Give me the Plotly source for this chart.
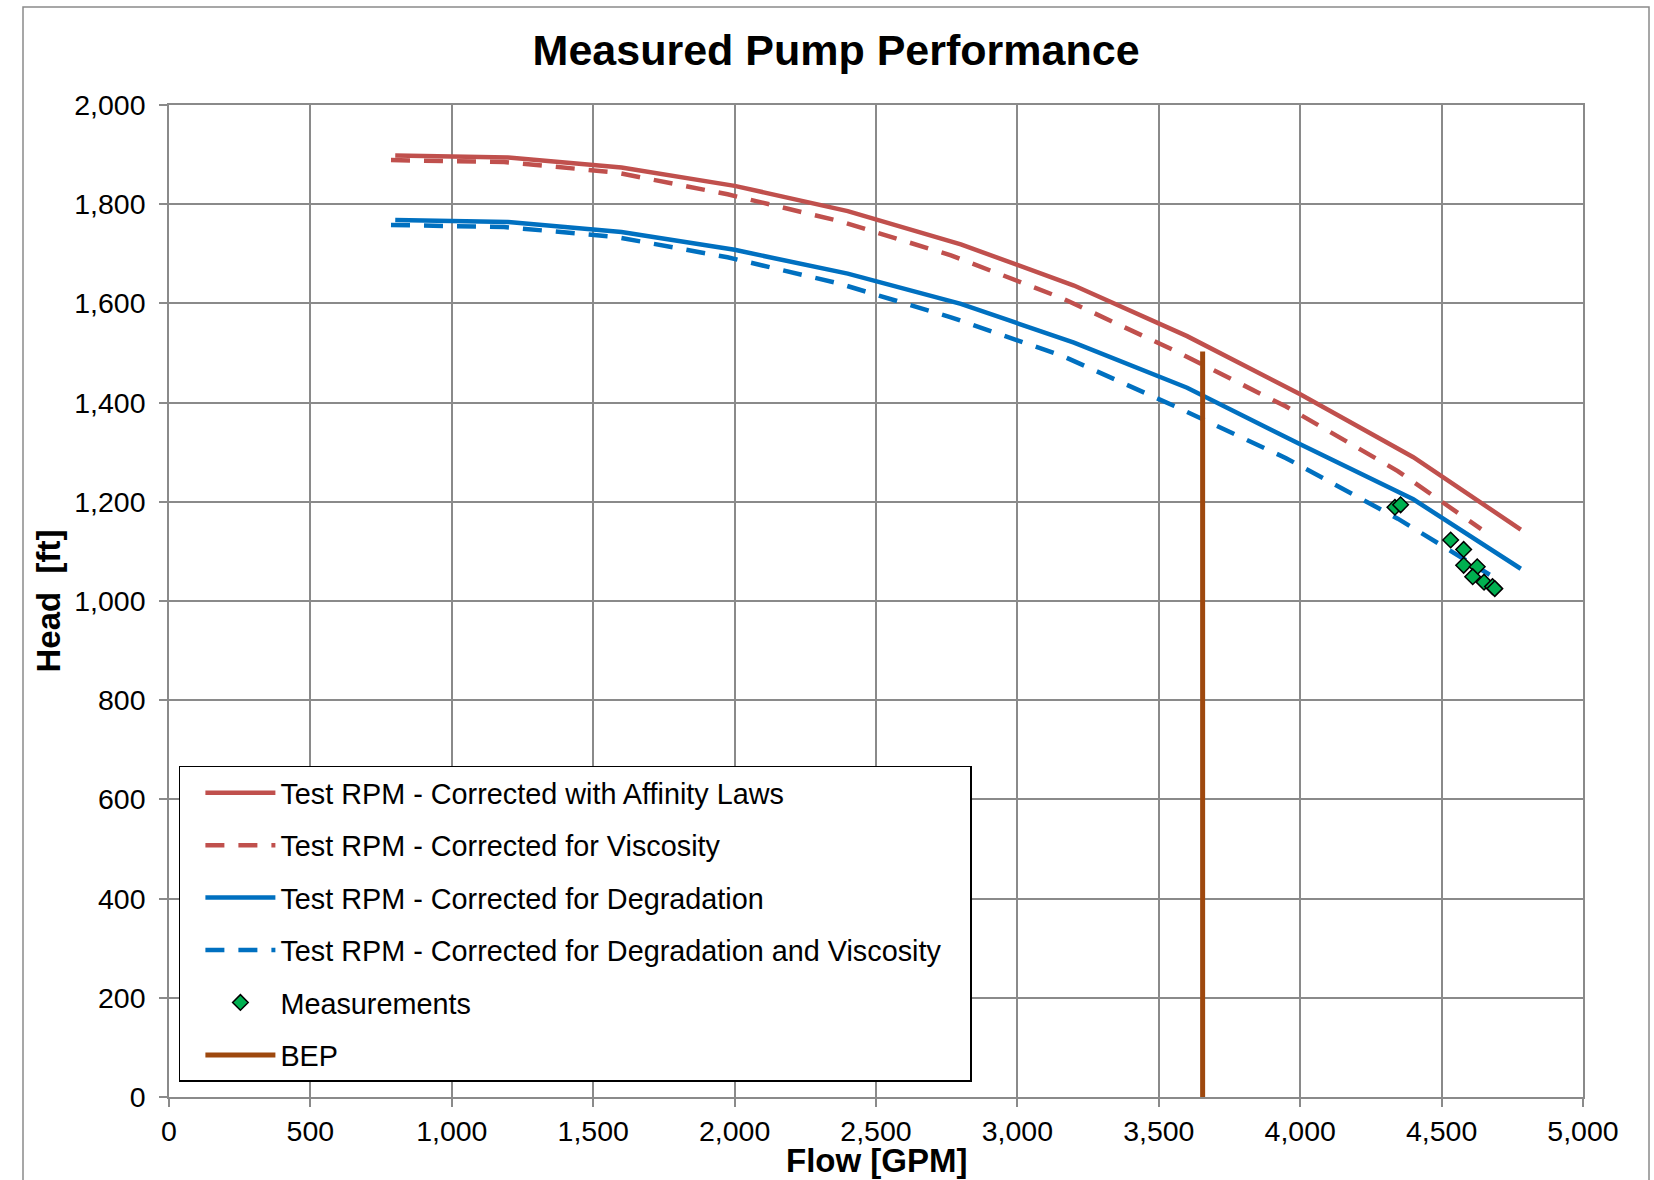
import plotly.graph_objects as go

# ---- data ----
flow_affinity = [800, 1200, 1600, 2000, 2400, 2800, 3200, 3600, 4000, 4400, 4780]
head_affinity = [1898, 1894, 1874, 1837, 1786, 1719, 1636, 1534, 1417, 1290, 1144]

flow_visc = [785, 1185, 1580, 1975, 2370, 2765, 3160, 3555, 3950, 4345, 4640]
head_visc = [1889, 1885, 1864, 1820, 1766, 1697, 1610, 1505, 1392, 1262, 1145]

flow_degr = [800, 1200, 1600, 2000, 2400, 2800, 3200, 3600, 4000, 4400, 4780]
head_degr = [1768, 1764, 1744, 1708, 1660, 1599, 1521, 1430, 1316, 1205, 1065]

flow_degr_visc = [785, 1185, 1580, 1975, 2370, 2765, 3160, 3555, 3950, 4345, 4670]
head_degr_visc = [1758, 1754, 1734, 1693, 1640, 1572, 1494, 1393, 1288, 1166, 1053]

flow_meas = [4335, 4355, 4532, 4578, 4578, 4626, 4610, 4650, 4680, 4688]
head_meas = [1189, 1194, 1123, 1104, 1072, 1069, 1049, 1038, 1029, 1025]

bep_flow = [3655, 3655]
bep_head = [0, 1503]

x_ticks = [0, 500, 1000, 1500, 2000, 2500, 3000, 3500, 4000, 4500, 5000]
y_ticks = [0, 200, 400, 600, 800, 1000, 1200, 1400, 1600, 1800, 2000]

RED = "#C0504D"
BLUE = "#0070C0"
GREEN = "#00B050"
BROWN = "#9E480E"
GRID = "#8A8A8A"
FONT = "Liberation Sans, Arial, sans-serif"
NB = "\u00a0"

fig = go.Figure()
fig.add_trace(go.Scatter(x=flow_affinity, y=head_affinity, mode="lines",
                         name="Test RPM - Corrected with Affinity Laws",
                         legendgroup="g1", legendrank=1,
                         line=dict(color=RED, width=4.5)))
fig.add_trace(go.Scatter(x=flow_visc, y=head_visc, mode="lines",
                         name="Test RPM - Corrected for Viscosity",
                         legendgroup="g2", legendrank=2,
                         line=dict(color=RED, width=4.5, dash="19px,14px")))
fig.add_trace(go.Scatter(x=flow_degr, y=head_degr, mode="lines",
                         name="Test RPM - Corrected for Degradation",
                         legendgroup="g3", legendrank=3,
                         line=dict(color=BLUE, width=4.5)))
fig.add_trace(go.Scatter(x=flow_degr_visc, y=head_degr_visc, mode="lines",
                         name="Test RPM - Corrected for Degradation and Viscosity" + NB * 3,
                         legendgroup="g4", legendrank=4,
                         line=dict(color=BLUE, width=4.5, dash="19px,14px")))
fig.add_trace(go.Scatter(x=bep_flow, y=bep_head, mode="lines",
                         name="BEP", legendgroup="g6", legendrank=6,
                         line=dict(color=BROWN, width=5)))
fig.add_trace(go.Scatter(x=flow_meas, y=head_meas, mode="markers",
                         name="Measurements", legendgroup="g5", legendrank=5,
                         marker=dict(symbol="diamond", size=12, color=GREEN,
                                     line=dict(color="black", width=1.5))))

axis_common = dict(
    showgrid=True, gridcolor=GRID, gridwidth=1.5,
    showline=True, linecolor=GRID, linewidth=1.5, mirror=True,
    ticks="outside", ticklen=8, tickcolor=GRID, tickwidth=1.5,
    zeroline=False, automargin=False,
    tickfont=dict(family=FONT, size=28.5, color="black"),
    tickformat=",d",
)

fig.update_layout(
    width=1654, height=1180,
    paper_bgcolor="white", plot_bgcolor="white",
    margin=dict(l=169, r=71, t=105, b=83),
    font=dict(family=FONT, color="black"),
    title=dict(text="<b>Measured Pump Performance</b>",
               font=dict(family=FONT, size=43, color="black"),
               x=0.5055, xanchor="center", xref="container",
               y=1 - 50 / 1180, yanchor="middle", yref="container",
               automargin=False),
    xaxis=dict(range=[0, 5000], tickvals=x_ticks,
               ticklabelstandoff=0,
               **axis_common),
    yaxis=dict(range=[0, 2000], tickvals=y_ticks,
               title=dict(text="<b>Head  [ft]</b>",
                          font=dict(family=FONT, size=33, color="black"),
                          standoff=4),
               ticklabelstandoff=8,
               **axis_common),
    legend=dict(x=0.007, y=0.3337, xanchor="left", yanchor="top",
                bgcolor="white", bordercolor="black", borderwidth=1.5,
                font=dict(family=FONT, size=28.8, color="black"),
                traceorder="grouped", tracegroupgap=12,
                itemwidth=70, indentation=20),
    showlegend=True,
)

# x-axis title sitting on the page's lower edge, as in the reference
fig.add_annotation(text="<b>Flow [GPM]</b>", xref="paper", yref="paper",
                   x=0.5, y=(1097 - 1180) / 992, xanchor="center", yanchor="bottom",
                   showarrow=False, borderpad=0,
                   font=dict(family=FONT, size=33, color="black"))

# outer chart border
fig.add_shape(type="rect", xref="paper", yref="paper",
              x0=(23 - 169) / 1414, x1=(1649 - 169) / 1414,
              y0=-0.2, y1=(1097 - 7) / 992,
              line=dict(color=GRID, width=1.5), layer="below")

fig.write_html("out.html",
               config={"displayModeBar": False},
               post_script="document.body.style.margin='0px';")
